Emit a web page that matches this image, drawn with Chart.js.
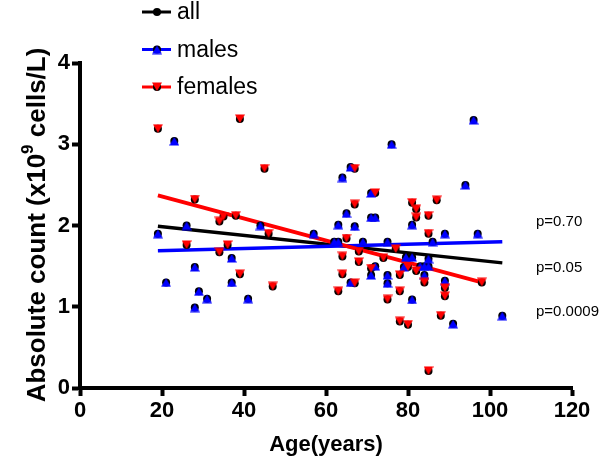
<!DOCTYPE html>
<html>
<head>
<meta charset="utf-8">
<script src="https://cdn.jsdelivr.net/npm/chart.js@4.4.1/dist/chart.umd.min.js"></script>
<style>
  html, body { margin: 0; padding: 0; background: #fff; }
</style>
</head>
<body>
<canvas id="c" width="600" height="468"></canvas>
<script>
// values
const maleAge = [23, 26, 19, 44, 57, 37, 28, 21, 37, 29, 31, 41, 28, 96, 76, 66, 64, 94, 71, 65,
  71, 72, 63, 67, 81, 89, 97, 62, 63, 69, 75, 86, 79.5, 81, 85, 72, 79, 83, 84, 85,
  66, 71, 75, 75, 81, 84, 89, 103, 91];
const maleCount = [3.04, 2.00, 1.90, 2.00, 1.90, 1.60, 1.49, 1.30, 1.30, 1.19, 1.10, 1.10, 0.99, 3.30, 3.00, 2.72, 2.59, 2.50, 2.40, 2.15,
  2.10, 2.10, 2.01, 1.99, 2.01, 1.90, 1.90, 1.80, 1.80, 1.80, 1.80, 1.80, 1.61, 1.61, 1.59, 1.50, 1.49, 1.50, 1.50, 1.50,
  1.30, 1.39, 1.39, 1.29, 1.09, 1.39, 1.32, 0.89, 0.79];

const femaleAge = [19, 39, 45, 28, 34, 35, 38, 46, 26, 36, 34, 39, 47, 67, 72, 67, 81, 87, 82, 82,
  85, 85, 65, 77, 64, 68, 68, 71, 74, 64, 67, 63, 78, 78, 75, 80, 82, 84, 89, 89,
  98, 78, 80, 88, 85];
const femaleCount = [3.19, 3.31, 2.70, 2.32, 2.05, 2.11, 2.12, 1.90, 1.76, 1.76, 1.67, 1.40, 1.25, 2.70, 2.40, 2.26, 2.28, 2.31, 2.20, 2.10,
  2.12, 1.90, 1.84, 1.71, 1.62, 1.68, 1.55, 1.47, 1.60, 1.40, 1.29, 1.19, 1.39, 1.19, 1.09, 1.49, 1.44, 1.30, 1.23, 1.13,
  1.30, 0.82, 0.78, 0.89, 0.21];

// regression line end points
const fitAge = [19, 103];
const femaleFitAge = [19, 98];
const allFit = [1.99, 1.54];
const maleFit = [1.69, 1.80];
const femaleFit = [2.37, 1.30];

const seriesNames = ["all", "males", "females"];
const pLabels = ["p=0.70", "p=0.05", "p=0.0009"];
const xTicks = [0, 20, 40, 60, 80, 100, 120];
const yTicks = [0, 1, 2, 3, 4];

const FONT = "'Liberation Sans', Arial, Helvetica, sans-serif";
const BLUE = "#0000ff";
const RED = "#ff0000";

const allAge = maleAge.concat(femaleAge);
const allCount = maleCount.concat(femaleCount);

function pts(xs, ys) {
  return xs.map((x, i) => ({ x: x, y: ys[i] }));
}

// triangle markers sitting over the black circle, like the original
function triangle(color, down) {
  const c = document.createElement("canvas");
  c.width = 10;
  c.height = 10;
  const g = c.getContext("2d");
  g.fillStyle = color;
  g.beginPath();
  if (down) {
    g.moveTo(0, 0.5); g.lineTo(10, 0.5); g.lineTo(5, 9);
  } else {
    g.moveTo(5, 1); g.lineTo(10, 9.5); g.lineTo(0, 9.5);
  }
  g.closePath();
  g.fill();
  return c;
}
const upTri = triangle(BLUE, false);
const downTri = triangle(RED, true);

const overlay = {
  id: "overlay",
  afterDraw(chart) {
    const ctx = chart.ctx;
    ctx.save();

    // legend
    const rows = [12, 49.5, 87];
    const colors = ["#000", BLUE, RED];
    ctx.font = "23px " + FONT;
    ctx.textBaseline = "middle";
    rows.forEach((y, i) => {
      ctx.strokeStyle = colors[i];
      ctx.lineWidth = 3;
      ctx.beginPath();
      ctx.moveTo(142, y);
      ctx.lineTo(171, y);
      ctx.stroke();
      ctx.fillStyle = "#000";
      ctx.beginPath();
      ctx.arc(157, y, 4, 0, Math.PI * 2);
      ctx.fill();
      if (i === 1) ctx.drawImage(upTri, 152, y - 5);
      if (i === 2) ctx.drawImage(downTri, 152, y - 5);
      ctx.fillStyle = "#000";
      ctx.fillText(seriesNames[i], 177, y + 1);
    });

    // p values
    ctx.font = "15px " + FONT;
    ctx.textAlign = "left";
    ctx.fillText(pLabels[0], 536, 222);
    ctx.fillText(pLabels[1], 536, 268);
    ctx.fillText(pLabels[2], 536, 312);

    // x title
    ctx.font = "bold 22px " + FONT;
    ctx.textAlign = "center";
    ctx.textBaseline = "alphabetic";
    ctx.fillText("Age(years)", 326, 451);

    // y title with superscript
    ctx.translate(45, 225);
    ctx.rotate(-Math.PI / 2);
    const big = "bold 26px " + FONT;
    const small = "bold 17px " + FONT;
    const a = "Absolute count (x10", s = "9", b = " cells/L)";
    ctx.font = big;
    const wa = ctx.measureText(a).width, wb = ctx.measureText(b).width;
    ctx.font = small;
    const ws = ctx.measureText(s).width;
    let x = -(wa + ws + wb) / 2;
    ctx.textAlign = "left";
    ctx.font = big;
    ctx.fillText(a, x, 0);
    x += wa;
    ctx.font = small;
    ctx.fillText(s, x, -12);
    x += ws;
    ctx.font = big;
    ctx.fillText(b, x, 0);

    ctx.restore();
  }
};

const axisGrid = {
  display: true,
  drawOnChartArea: false,
  drawTicks: true,
  tickLength: 8,
  tickWidth: 4,
  tickColor: "#000",
  color: "#000"
};
const axisBorder = { display: true, width: 4, color: "#000" };
const tickFont = { family: FONT, size: 22, weight: "bold" };

new Chart(document.getElementById("c"), {
  type: "scatter",
  data: {
    datasets: [
      {
        label: "all fit",
        type: "line",
        data: pts(fitAge, allFit),
        borderColor: "#000",
        borderWidth: 3.5,
        pointRadius: 0,
        order: 10
      },
      {
        label: "males fit",
        type: "line",
        data: pts(fitAge, maleFit),
        borderColor: BLUE,
        borderWidth: 3.5,
        pointRadius: 0,
        order: 9
      },
      {
        label: "females fit",
        type: "line",
        data: pts(femaleFitAge, femaleFit),
        borderColor: RED,
        borderWidth: 4,
        pointRadius: 0,
        order: 8
      },
      {
        label: "all",
        data: pts(allAge, allCount),
        pointStyle: "circle",
        pointRadius: 4,
        pointBorderWidth: 0,
        backgroundColor: "#000",
        borderColor: "#000",
        order: 3
      },
      {
        label: "males",
        data: pts(maleAge, maleCount),
        pointStyle: upTri,
        order: 2
      },
      {
        label: "females",
        data: pts(femaleAge, femaleCount),
        pointStyle: downTri,
        order: 1
      }
    ]
  },
  options: {
    responsive: false,
    animation: false,
    devicePixelRatio: 1,
    layout: { padding: { top: 63, right: 28, left: 0, bottom: 0 } },
    plugins: {
      legend: { display: false },
      tooltip: { enabled: false }
    },
    scales: {
      x: {
        type: "linear",
        min: 0,
        max: 120,
        afterBuildTicks(s) { s.ticks = xTicks.map(v => ({ value: v })); },
        ticks: { color: "#000", font: tickFont, padding: 2 },
        grid: axisGrid,
        border: axisBorder,
        afterFit(s) { s.height = 80; }
      },
      y: {
        type: "linear",
        min: 0,
        max: 4,
        afterBuildTicks(s) { s.ticks = yTicks.map(v => ({ value: v })); },
        ticks: { color: "#000", font: tickFont, padding: 2 },
        grid: axisGrid,
        border: axisBorder,
        afterFit(s) { s.width = 80; }
      }
    }
  },
  plugins: [overlay]
});
</script>
</body>
</html>
